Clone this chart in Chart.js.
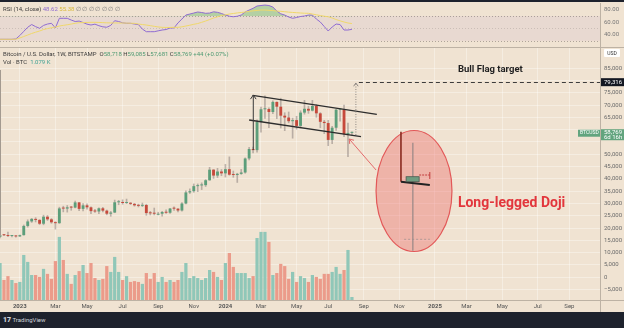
<!DOCTYPE html>
<html>
<head>
<meta charset="utf-8">
<script src="https://cdn.jsdelivr.net/npm/chart.js@4.4.1/dist/chart.umd.min.js"></script>
<style>
    html, body { margin: 0; padding: 0; }
    body { width: 624px; height: 328px; background: #f0e3d2; position: relative; overflow: hidden; font-family: Roboto, 'Noto Sans', sans-serif; }
    canvas { position: absolute; left: 0; }
    #rsiChart { top: 3px; }
    #mainChart { top: 47px; }
    .bar { position: absolute; background: #1e222d; }
    .rule { position: absolute; background: #bdb2a4; }
    .label { position: absolute; font-size: 6px; line-height: 7px; white-space: nowrap; color: #3a3a3a; }
    .green { color: #4e9a72; }
    #usd { position: absolute; left: 604px; top: 49px; width: 16px; height: 8px; background: #fff; border-radius: 1px; font-size: 5px; line-height: 8px; text-align: center; color: #333; }
    #footer { position: absolute; left: 0; top: 312px; width: 624px; height: 16px; background: #1e222d; color: #d1d4dc; font-size: 6px; line-height: 16px; }
</style>
</head>
<body>
<div class="bar" style="left:0;top:0;width:624px;height:2px"></div>
<canvas id="rsiChart" width="624" height="44"></canvas>
<canvas id="mainChart" width="624" height="265"></canvas>
<div class="rule" style="left:0;top:47px;width:624px;height:1px"></div>
<div class="rule" style="left:600px;top:3px;width:1px;height:309px"></div>
<div class="rule" style="left:0;top:300px;width:624px;height:1px"></div>
<div class="rule" style="left:0;top:70px;width:1px;height:166px;background:#a39a90"></div>

<div class="label" style="left:3px;top:5px">RSI (14, close) <span style="color:#8e6bd1">48.62</span> <span style="color:#d9b93a">55.38</span> <span style="color:#777">&#8709; &#8709; &#8709; &#8709; &#8709; &#8709; &#8709;</span></div>
<div class="label" style="left:3px;top:50px">Bitcoin / U.S. Dollar, 1W, BITSTAMP&nbsp; O<span class="green">58,718</span> H<span class="green">59,085</span> L<span class="green">57,681</span> C<span class="green">58,769</span> <span class="green">+44 (+0.07%)</span></div>
<div class="label" style="left:3px;top:58px">Vol · BTC&nbsp; <span style="color:#3fa194">1.079 K</span></div>
<div id="usd">USD</div>
<div id="footer"><span style="margin-left:3px;font-weight:900;font-size:7px">17</span> TradingView</div>

<script>
// weekly candles, first one is the week of 28 Nov 2022
const firstCandle = '2022-11-28'

const opens = [
    16440, 17110, 17100, 16780, 16840,
    16620, 17130, 20880, 22710, 23740,
    23330, 21780, 24630, 23560, 22350,
    22000, 28000, 27940, 28450, 28330,
    30450, 27820, 29250, 28450, 26900,
    26750, 28050, 27100, 25850, 26330,
    30500, 30580, 30200, 30300, 29850,
    29250, 29050, 29400, 26100, 26000,
    25850, 25850, 26550, 26250, 27950,
    27900, 27150, 30000, 34500, 35000,
    37050, 37350, 37450, 39450, 43750,
    41350, 43000, 42250, 43950, 41700,
    41600, 42050, 42600, 48300, 52150,
    51700, 63100, 68300, 68400, 67200,
    71300, 69350, 65700, 64950, 63450,
    63900, 61550, 66950, 68500, 67750,
    69650, 66650, 63200, 62700, 55850,
    60800, 68150, 68250, 58150, 58718
]
const highs = [
    17420, 17420, 18390, 16960, 16960,
    17180, 21260, 23370, 23960, 24250,
    23440, 25250, 25130, 23890, 22600,
    28500, 28900, 29200, 28800, 31000,
    30500, 30000, 29850, 28650, 27650,
    28250, 28450, 27350, 26800, 31400,
    31300, 31500, 31800, 30400, 30050,
    29750, 30200, 29700, 26800, 28150,
    26450, 26850, 27450, 28050, 28600,
    27950, 30350, 35200, 35950, 37950,
    37950, 38400, 39700, 44700, 43800,
    44300, 43800, 45900, 48950, 43200,
    42300, 43850, 48550, 52800, 52950,
    64000, 69200, 73800, 68900, 71700,
    71300, 72800, 66900, 67200, 64700,
    65450, 67700, 71950, 69550, 71950,
    70200, 66950, 63800, 63800, 61400,
    68350, 68500, 70000, 62700, 59085
]
const lows = [
    16050, 16880, 16540, 16400, 16330,
    16610, 17120, 20400, 22300, 22500,
    21450, 21350, 23100, 21950, 19570,
    21900, 26600, 26500, 27250, 28200,
    27130, 26950, 27700, 25850, 26350,
    25850, 26600, 25400, 24800, 26250,
    29500, 29700, 29950, 29550, 28900,
    28600, 28700, 25200, 25350, 25350,
    25350, 24900, 26000, 26000, 27200,
    26550, 26900, 29850, 34050, 34550,
    34800, 35650, 36900, 39400, 40200,
    40550, 41300, 40750, 41500, 40650,
    38550, 41850, 42300, 47700, 50600,
    50900, 59000, 64550, 60800, 66500,
    64500, 60700, 59600, 62800, 56550,
    60200, 60750, 66300, 66650, 67600,
    65050, 60800, 58400, 53500, 54300,
    59700, 63450, 57200, 49050, 57681
]
const closes = [
    17110, 17100, 16780, 16840, 16620,
    17130, 20880, 22710, 23740, 23330,
    21780, 24630, 23560, 22350, 22000,
    28000, 27940, 28450, 28330, 30450,
    27820, 29250, 28450, 26900, 26750,
    28050, 27100, 25850, 26330, 30500,
    30580, 30200, 30300, 29850, 29250,
    29050, 29400, 26100, 26000, 25850,
    25850, 26550, 26250, 27950, 27900,
    27150, 30000, 34500, 35000, 37050,
    37350, 37450, 39450, 43750, 41350,
    43000, 42250, 43950, 41700, 41600,
    42050, 42600, 48300, 52150, 51700,
    63100, 68300, 68400, 67200, 71300,
    69350, 65700, 64950, 63450, 63900,
    61550, 66950, 68500, 67750, 69650,
    66650, 63200, 62700, 55850, 60800,
    68150, 68250, 58150, 58700, 58769
]

// volume, thousand BTC
const volumeK = [
    13.3, 7.2, 8.6, 7.2, 6.1,
    6.5, 16.2, 13.7, 9.0, 9.0,
    8.3, 11.2, 9.4, 7.6, 14.0,
    22.7, 14.4, 9.4, 5.8, 9.0,
    10.4, 12.6, 9.7, 13.3, 7.9,
    7.2, 7.6, 12.2, 10.1, 15.5,
    10.1, 7.2, 8.6, 6.5, 6.8,
    6.5, 5.8, 9.7, 7.6, 9.7,
    6.5, 8.3, 6.5, 7.2, 6.5,
    7.2, 10.1, 13.3, 7.9, 8.6,
    7.9, 7.2, 7.9, 10.8, 10.1,
    8.3, 7.2, 13.3, 16.9, 11.9,
    9.7, 9.7, 9.7, 7.9, 8.6,
    22.3, 24.5, 24.5, 20.9, 9.0,
    9.7, 13.0, 12.2, 7.6, 10.1,
    6.5, 8.6, 7.9, 6.5, 9.0,
    8.3, 7.6, 9.4, 9.4, 10.1,
    11.9, 9.4, 10.8, 18.0, 1.079
]

const rsi = [
    32.5, 32.5, 32.5, 32.5, 33.0,
    38.6, 45.3, 52.0, 56.4, 53.0,
    50.3, 55.0, 57.2, 58.4, 50.8,
    66.5, 66.5, 66.5, 63.7, 61.3,
    62.0, 59.7, 57.0, 55.6, 57.0,
    54.5, 52.7, 52.0, 55.0, 62.6,
    61.3, 59.2, 58.4, 58.4, 57.2,
    56.3, 49.0, 44.8, 44.8, 44.8,
    46.2, 47.5, 48.3, 50.8, 50.8,
    59.0, 65.3, 71.8, 73.4, 75.0,
    76.7, 75.9, 74.6, 75.0, 77.0,
    76.2, 74.3, 71.8, 69.9, 69.0,
    69.9, 71.8, 76.7, 79.9, 82.7,
    86.4, 87.2, 88.0, 87.2, 84.8,
    78.3, 73.8, 71.8, 68.6, 66.5,
    67.8, 69.4, 70.2, 71.8, 71.8,
    65.3, 60.5, 53.2, 45.9, 52.4,
    57.2, 56.4, 47.5, 47.5, 48.6
]
const rsiMa = [
    32.5, 32.5, 32.5, 32.5, 32.6,
    34.6, 37.0, 39.4, 41.9, 44.0,
    45.9, 48.3, 49.8, 51.1, 52.4,
    54.0, 55.1, 56.0, 57.2, 58.4,
    59.4, 59.5, 59.8, 60.0, 60.0,
    59.8, 59.5, 59.2, 59.0, 59.0,
    58.9, 58.9, 58.7, 58.5, 58.3,
    57.2, 56.4, 55.6, 54.6, 53.5,
    52.5, 51.9, 51.7, 51.7, 51.9,
    51.9, 52.7, 54.0, 55.3, 56.8,
    58.0, 60.0, 62.1, 64.5, 67.0,
    68.9, 70.9, 72.2, 73.4, 74.3,
    75.2, 75.9, 76.7, 77.8, 78.6,
    79.3, 79.9, 79.9, 79.4, 79.0,
    78.3, 77.8, 77.2, 76.5, 76.0,
    75.6, 75.1, 74.7, 74.6, 73.4,
    72.2, 71.0, 69.9, 69.0, 67.0,
    64.5, 62.4, 60.5, 58.9, 58.0
]

// time axis: first weekly bar of each labelled month
const tickDates = ['2023-01-02', '2023-03-06', '2023-05-01', '2023-07-03', '2023-09-04', '2023-11-06',
    '2024-01-01', '2024-03-04', '2024-05-06', '2024-07-01', '2024-09-02', '2024-11-04',
    '2025-01-06', '2025-03-03', '2025-05-05', '2025-07-07', '2025-09-01']
const tickLabels = ['2023', 'Mar', 'May', 'Jul', 'Sep', 'Nov', '2024', 'Mar', 'May', 'Jul', 'Sep', 'Nov',
    '2025', 'Mar', 'May', 'Jul', 'Sep']

const priceTicks = [-5000, 0, 5000, 10000, 15000, 20000, 25000, 30000, 35000, 40000, 45000,
    50000, 55000, 60000, 65000, 70000, 75000, 80000, 85000]
const rsiTicks = [80, 60, 40]

const targetPrice = 79316
const lastClose = 58769

// drawings, in (week, price)
const flagUpper = [[58.9, 73980], [90.3, 66260]]
const flagLower = [[58.0, 63940], [86.3, 57150]]
const flagPole = [[59.05, 51750], [59.05, 74100]]
const projection = [[85.0, 57850], [85.0, 79000]]
const pointer = [[90.1, 43620], [83.3, 56220]]
const dojiCircle = { w: 99.7, p: 35080, rw: 9.6, rp: 24600 }


const X_MIN = -5.01
const X_MAX = 146.74

Chart.defaults.font.family = 'Roboto, "Noto Sans", sans-serif'
Chart.defaults.animation = false

function weekOf(date) {
    return (Date.parse(date + 'T00:00:00Z') - Date.UTC(2023, 0, 2)) / (7 * 864e5)
}

const weeks = closes.map((c, i) => weekOf(firstCandle) + i)
const tickWeeks = tickDates.map(weekOf)

const colors = {
    upBody: '#5c9e7a',
    downBody: '#c6493b',
    wick: 'rgba(140, 130, 125, 0.55)',
    volUp: '#90c7b8',
    volDown: '#eb9b8a',
    grid: 'rgba(255, 255, 255, 0.35)',
    axis: '#bdb2a4'
}

function priceText(v) {
    const s = Math.abs(v).toLocaleString('en-US')
    return v < 0 ? '\u2212' + s : s
}

function line(ctx, a, b, color, width, dash) {
    ctx.beginPath()
    ctx.setLineDash(dash || [])
    ctx.strokeStyle = color
    ctx.lineWidth = width
    ctx.moveTo(a[0], a[1])
    ctx.lineTo(b[0], b[1])
    ctx.stroke()
    ctx.setLineDash([])
}

function chevron(ctx, from, tip, color, size) {
    const ang = Math.atan2(tip[1] - from[1], tip[0] - from[0])
    ctx.beginPath()
    ctx.strokeStyle = color
    ctx.lineWidth = 1
    ctx.moveTo(tip[0] - size * Math.cos(ang - 0.6), tip[1] - size * Math.sin(ang - 0.6))
    ctx.lineTo(tip[0], tip[1])
    ctx.lineTo(tip[0] - size * Math.cos(ang + 0.6), tip[1] - size * Math.sin(ang + 0.6))
    ctx.stroke()
}


printRsiChart()
printMainChart()


function printRsiChart() {

    const rsiBand = {
        id: 'rsiBand',
        beforeDatasetsDraw(chart) {
            const { ctx, chartArea } = chart
            const y = chart.scales.y
            ctx.save()
            ctx.fillStyle = 'rgba(140, 100, 200, 0.08)'
            ctx.fillRect(chartArea.left, y.getPixelForValue(70), chartArea.width, y.getPixelForValue(30) - y.getPixelForValue(70))
            ;[70, 50, 30].forEach(v => {
                const py = Math.round(y.getPixelForValue(v)) + 0.5
                line(ctx, [chartArea.left, py], [chartArea.right, py], v === 50 ? 'rgba(150,140,135,0.35)' : 'rgba(130,120,115,0.6)', 1, [1, 2])
            })
            ctx.restore()
        },
        afterDraw(chart) {
            const { ctx, chartArea } = chart
            ctx.save()
            ctx.font = '6px Roboto'
            ctx.fillStyle = '#777'
            ctx.textBaseline = 'middle'
            rsiTicks.forEach(v => ctx.fillText(v.toFixed(2), chartArea.right + 4, chart.scales.y.getPixelForValue(v)))
            ctx.restore()
        }
    }

    const data = {
        datasets: [
            {
                data: rsiMa.map((v, i) => ({ x: weeks[i], y: v })),
                borderColor: '#efd76a',
                borderWidth: 1,
                pointRadius: 0
            },
            {
                data: rsi.map((v, i) => ({ x: weeks[i], y: v })),
                borderColor: '#8e6bd1',
                borderWidth: 1,
                pointRadius: 0,
                fill: { target: { value: 70 }, above: 'rgba(90, 180, 95, 0.4)', below: 'rgba(0,0,0,0)' }
            }
        ]
    }

    const options = {
        responsive: false,
        devicePixelRatio: 1,
        layout: { padding: 0 },
        plugins: {
            legend: { display: false },
            tooltip: { enabled: false }
        },
        scales: {
            x: { type: 'linear', min: X_MIN, max: X_MAX, display: false },
            y: {
                position: 'right',
                min: 20,
                max: 91.3,
                afterFit: s => { s.width = 24 },
                ticks: { display: false },
                grid: { display: false },
                border: { display: false }
            }
        }
    }

    new Chart('rsiChart', { type: 'line', data, options, plugins: [rsiBand] })
}


function printMainChart() {

    const up = closes.map((c, i) => c >= opens[i])

    const data = {
        datasets: [
            {
                data: volumeK.map((v, i) => ({ x: weeks[i], y: v })),
                yAxisID: 'yv',
                backgroundColor: up.map(u => u ? colors.volUp : colors.volDown),
                barPercentage: 0.82,
                categoryPercentage: 1,
                grouped: false,
                order: 3
            },
            {
                data: lows.map((l, i) => ({ x: weeks[i], y: [l, highs[i]] })),
                yAxisID: 'y',
                backgroundColor: colors.wick,
                barThickness: 1,
                grouped: false,
                order: 2
            },
            {
                data: opens.map((o, i) => ({ x: weeks[i], y: [o, closes[i]] })),
                yAxisID: 'y',
                backgroundColor: up.map(u => u ? colors.upBody : colors.downBody),
                barPercentage: 0.72,
                categoryPercentage: 1,
                minBarLength: 1,
                grouped: false,
                order: 1
            }
        ]
    }

    const drawings = {
        id: 'drawings',
        afterDatasetsDraw(chart) {
            const { ctx, chartArea } = chart
            const px = w => chart.scales.x.getPixelForValue(w)
            const py = p => chart.scales.y.getPixelForValue(p)
            const pt = d => [px(d[0]), py(d[1])]

            ctx.save()

            // flag channel
            line(ctx, pt(flagUpper[0]), pt(flagUpper[1]), '#2d2d2d', 1.3)
            line(ctx, pt(flagLower[0]), pt(flagLower[1]), '#2d2d2d', 1.3)
            line(ctx, pt(flagPole[0]), pt(flagPole[1]), '#3a3a3a', 1)
            chevron(ctx, pt(flagPole[0]), pt(flagPole[1]), '#3a3a3a', 5)

            // projected target
            line(ctx, pt(projection[0]), pt(projection[1]), '#8d8782', 1, [1, 1.5])
            chevron(ctx, pt(projection[0]), pt(projection[1]), '#8d8782', 4)
            const ty = Math.round(py(targetPrice)) + 0.5
            line(ctx, [px(projection[0][0]) + 3, ty], [chartArea.right, ty], '#3d3d3d', 1.2, [4, 3])

            ctx.font = 'bold 9.5px Roboto'
            ctx.fillStyle = '#1f1f1f'
            ctx.textBaseline = 'middle'
            ctx.fillText('Bull Flag target', px(110.8), py(84270))

            // pointer to the doji
            line(ctx, pt(pointer[0]), pt(pointer[1]), '#e36a6a', 1)
            chevron(ctx, pt(pointer[0]), pt(pointer[1]), '#e36a6a', 5)

            // zoomed doji
            const cx = px(dojiCircle.w)
            const cy = py(dojiCircle.p)
            ctx.beginPath()
            ctx.ellipse(cx, cy, px(dojiCircle.w + dojiCircle.rw) - cx, cy - py(dojiCircle.p + dojiCircle.rp), 0, 0, Math.PI * 2)
            ctx.fillStyle = 'rgba(236, 95, 95, 0.36)'
            ctx.fill()
            ctx.strokeStyle = '#e25858'
            ctx.lineWidth = 1.2
            ctx.stroke()

            line(ctx, pt([99.4, 54720]), pt([99.4, 10810]), 'rgba(160,140,138,0.9)', 1.5)
            line(ctx, pt([96.4, 59190]), pt([96.4, 38860]), '#8a2a20', 1.6)
            line(ctx, pt([96.4, 38860]), pt([103.7, 37520]), '#222', 2)
            line(ctx, pt([101.0, 41580]), pt([103.7, 41580]), '#c23d3d', 1, [2, 1])
            line(ctx, pt([103.7, 42800]), pt([103.7, 39960]), '#c23d3d', 1)
            line(ctx, pt([97.2, 15450]), pt([103.7, 15450]), 'rgba(150,140,140,0.7)', 1, [2, 2])
            const b0 = pt([97.7, 40890])
            const b1 = pt([101.0, 38860])
            ctx.fillStyle = '#6f9c80'
            ctx.fillRect(b0[0], b0[1], b1[0] - b0[0], b1[1] - b0[1])
            ctx.strokeStyle = '#4a5a50'
            ctx.lineWidth = 0.8
            ctx.strokeRect(b0[0], b0[1], b1[0] - b0[0], b1[1] - b0[1])

            ctx.font = 'bold 14px Roboto'
            ctx.fillStyle = '#e2363c'
            ctx.fillText('Long-legged Doji', px(110.8), py(30200))

            ctx.restore()
        },
        afterDraw(chart) {
            const { ctx, chartArea } = chart
            const py = p => chart.scales.y.getPixelForValue(p)
            const x0 = chartArea.right + 1
            const ty = py(targetPrice)
            const cy = py(lastClose)

            ctx.save()
            ctx.font = '6px Roboto'
            ctx.textBaseline = 'middle'
            ctx.fillStyle = '#6b6b6b'
            priceTicks.forEach(v => {
                const y = py(v)
                if (Math.abs(y - ty) < 7 || (y > cy - 6 && y < cy + 12)) return
                ctx.fillText(priceText(v), x0 + 3, y)
            })

            ctx.fillStyle = '#131722'
            ctx.fillRect(x0, ty - 4, 23, 8)
            ctx.fillStyle = '#fff'
            ctx.fillText(priceText(targetPrice), x0 + 3, ty + 0.5)

            ctx.fillStyle = '#62a47e'
            ctx.fillRect(x0, cy - 3.5, 23, 11)
            ctx.fillRect(chartArea.right - 22, cy - 3, 22, 7)
            ctx.fillStyle = '#fff'
            ctx.fillText(priceText(lastClose), x0 + 3, cy)
            ctx.fillText('6d 16h', x0 + 3, cy + 5)
            ctx.font = '5px Roboto'
            ctx.fillText('BTCUSD', chartArea.right - 20, cy + 0.5)
            ctx.restore()
        }
    }

    const options = {
        responsive: false,
        devicePixelRatio: 1,
        layout: { padding: 0 },
        plugins: {
            legend: { display: false },
            tooltip: { enabled: false }
        },
        scales: {
            x: {
                type: 'linear',
                min: X_MIN,
                max: X_MAX,
                offset: false,
                afterBuildTicks: s => { s.ticks = tickWeeks.map(v => ({ value: v })) },
                afterFit: s => { s.height = 12 },
                ticks: {
                    autoSkip: false,
                    maxRotation: 0,
                    padding: 3,
                    color: '#555',
                    font: ctx => ({ size: 6, weight: /^\d{4}$/.test(tickLabels[ctx.index]) ? 'bold' : 'normal' }),
                    callback: (v, i) => tickLabels[i]
                },
                grid: { color: colors.grid, drawTicks: false, offset: false },
                border: { display: false }
            },
            y: {
                position: 'right',
                min: -9228,
                max: 93618,
                afterBuildTicks: s => { s.ticks = priceTicks.map(v => ({ value: v })) },
                afterFit: s => { s.width = 24 },
                ticks: { display: false },
                grid: { color: colors.grid, drawTicks: false },
                border: { display: false }
            },
            yv: { display: false, min: 0, max: 91 }
        }
    }

    new Chart('mainChart', { type: 'bar', data, options, plugins: [drawings] })
}
</script>
</body>
</html>
